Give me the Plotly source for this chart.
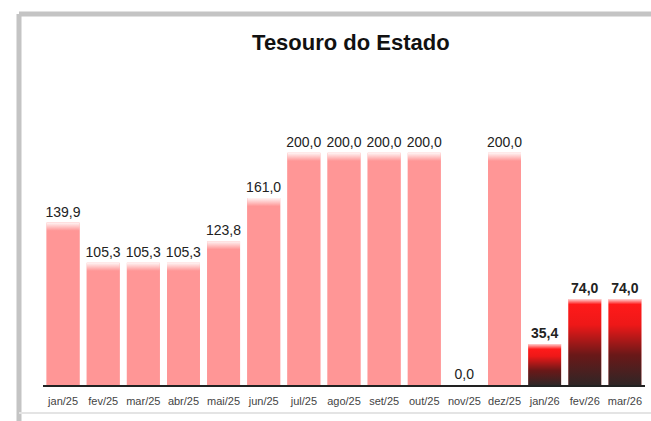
import plotly.graph_objects as go

categories = ["jan/25", "fev/25", "mar/25", "abr/25", "mai/25", "jun/25", "jul/25", "ago/25",
              "set/25", "out/25", "nov/25", "dez/25", "jan/26", "fev/26", "mar/26"]
values = [139.9, 105.3, 105.3, 105.3, 123.8, 161.0, 200.0, 200.0, 200.0, 200.0, 0.0, 200.0, 35.4, 74.0, 74.0]
highlight = [False] * 12 + [True] * 3

PINK = "#FF9696"
BAR_W = 0.82

x_idx = list(range(len(categories)))
labels = []
for v, h in zip(values, highlight):
    s = f"{v:.1f}".replace(".", ",")
    labels.append(f"<b>{s}</b>" if h else s)

fig = go.Figure()
fig.add_trace(go.Bar(
    x=x_idx, y=values, width=BAR_W,
    marker=dict(color=PINK, line=dict(width=0)),
    text=labels, textposition="outside", cliponaxis=False, constraintext="none",
    textfont=dict(family="Liberation Sans, Arial", size=14, color="#222"),
    hoverinfo="skip", showlegend=False,
))


def stops(pairs, v):
    # pairs: (distance from top in value units, color) -> normalized colorscale
    out = []
    for d, c in pairs:
        pos = max(0.0, min(1.0, (v - d) / v))
        out.append([pos, c])
    out.sort(key=lambda p: p[0])
    out[0][0] = 0.0
    out[-1][0] = 1.0
    return out


for i, (v, h) in enumerate(zip(values, highlight)):
    if v <= 0:
        continue
    if h:
        cs = stops([(v, "#302626"), (v * 0.65, "#6a1818"), (v * 0.3, "#EE1818"),
                    (4.5, "#FF1A1A"), (0, "#FFD4D4")], v)
    else:
        cs = stops([(v, PINK), (7, PINK), (0, "#FFF4F4")], v)
    x0, x1 = i - BAR_W / 2, i + BAR_W / 2
    fig.add_trace(go.Scatter(
        x=[x0, x1, x1, x0, x0], y=[0, 0, v, v, 0],
        mode="lines", line=dict(width=0), fill="toself",
        fillgradient=dict(type="vertical", colorscale=cs, start=0, stop=v),
        hoverinfo="skip", showlegend=False,
    ))

top_y = 1 + (60 - 14) / 325
left_x = -(43 - 19) / 602
fig.update_layout(
    width=651, height=421,
    margin=dict(l=43, r=6, t=60, b=36),
    paper_bgcolor="white", plot_bgcolor="white",
    title=dict(text="<b>Tesouro do Estado</b>", x=0.539, xanchor="center",
               y=0.90, yanchor="middle",
               font=dict(family="Liberation Sans, Arial", size=22, color="#111")),
    xaxis=dict(tickmode="array", tickvals=x_idx, ticktext=categories,
               range=[-0.5, len(categories) - 0.5], showgrid=False, zeroline=False,
               showline=True, linecolor="#222", linewidth=1.5, ticks="",
               tickfont=dict(family="Liberation Sans, Arial", size=11, color="#444"),
               ticklabelstandoff=5),
    yaxis=dict(range=[0, 280], visible=False, showgrid=False, zeroline=False),
)
fig.add_shape(type="line", xref="paper", yref="paper", x0=left_x, x1=left_x,
              y0=-0.2, y1=top_y, line=dict(color="#C4C4C4", width=5))
fig.add_shape(type="line", xref="paper", yref="paper", x0=left_x, x1=1.02,
              y0=top_y, y1=top_y, line=dict(color="#C4C4C4", width=5))
fig.add_shape(type="line", xref="paper", yref="paper", x0=left_x, x1=1.02,
              y0=-(413 - 385) / 325, y1=-(413 - 385) / 325, line=dict(color="#E4E4E4", width=2))

fig.write_html("out.html", config={"displayModeBar": False},
               post_script="document.body.style.margin='0';document.body.style.overflow='hidden';")
